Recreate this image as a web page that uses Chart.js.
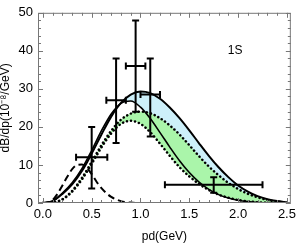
<!DOCTYPE html>
<html>
<head>
<meta charset="utf-8">
<script src="https://cdn.jsdelivr.net/npm/chart.js@4.4.1/dist/chart.umd.min.js"></script>
<style>
html, body { margin: 0; padding: 0; background: #fff; }
#wrap { width: 300px; height: 245px; }
</style>
</head>
<body>
<div id="wrap"><canvas id="c"></canvas></div>
<script>
// curve samples
var xGrid = [0.0, 0.1, 0.2, 0.3, 0.4, 0.5, 0.6, 0.7, 0.8, 0.9, 1.0, 1.1, 1.2, 1.3, 1.4, 1.5, 1.6, 1.7, 1.8, 1.9, 2.0, 2.1, 2.2, 2.3, 2.4, 2.5];
var upperSolid = [0, 0.5, 2.4, 4.9, 8.4, 13.0, 18.0, 22.7, 26.3, 28.5, 29.3, 28.9, 27.4, 25.1, 22.3, 19.1, 15.7, 12.4, 9.4, 6.8, 4.6, 3.0, 1.8, 1.0, 0.5, 0.2];
var lowerSolid = [0, 0.5, 2.6, 5.3, 9.0, 13.8, 19.0, 23.4, 26.2, 26.8, 25.2, 22.2, 18.5, 14.7, 11.1, 8.0, 5.5, 3.6, 2.2, 1.3, 0.7, 0.35, 0.15, 0.05, 0, 0];
var upperDotted = [0, 0.1, 1.0, 3.2, 6.6, 10.8, 15.2, 19.0, 21.9, 23.5, 24.0, 23.6, 22.3, 20.4, 18.0, 15.2, 12.3, 9.6, 7.3, 5.3, 3.7, 2.4, 1.5, 0.8, 0.35, 0.1];
var lowerDotted = [0, 0.1, 0.9, 3.0, 6.2, 10.3, 14.6, 18.3, 20.8, 21.6, 20.8, 18.6, 15.6, 12.4, 9.4, 7.0, 5.0, 3.4, 2.2, 1.4, 0.8, 0.45, 0.2, 0.1, 0, 0];

var dashedX = [0, 0.05, 0.1, 0.15, 0.2, 0.25, 0.3, 0.35, 0.4, 0.45, 0.5, 0.55, 0.6, 0.65, 0.7, 0.8, 0.9, 1.0, 1.5, 2.0, 2.5];
var dashedY = [0, 0.1, 0.8, 2.4, 4.6, 6.9, 8.9, 10.0, 10.1, 9.2, 7.6, 5.6, 3.9, 2.6, 1.6, 0.5, 0.1, 0, 0, 0, 0];

// data points with error bars
var pointX = [0.5, 0.75, 0.95, 1.1, 1.75];
var pointY = [12, 27, 36, 28.5, 4.8];
var xErrLow = [0.34, 0.65, 0.85, 1.0, 1.25];
var xErrHigh = [0.66, 0.85, 1.05, 1.2, 2.25];
var yErrLow = [3.8, 15.8, 24, 17.5, 2.7];
var yErrHigh = [20, 38, 48, 38, 6.8];

var xTicks = [0, 0.5, 1.0, 1.5, 2.0, 2.5];
var yTicks = [0, 10, 20, 30, 40, 50];

var blueFill = "rgb(205,240,250)";
var greenFill = "rgb(170,245,170)";
var labelFont = "'Liberation Sans Narrow', 'Liberation Sans', Arial, sans-serif";

function pts(xs, ys) {
    return xs.map(function (v, i) { return { x: v, y: ys[i] }; });
}

var framePlugin = {
    id: "frame",
    afterDatasetsDraw: function (chart) {
        var ctx = chart.ctx;
        var a = chart.chartArea;
        var xs = chart.scales.x;
        var ys = chart.scales.y;
        ctx.save();

        // error bars
        ctx.strokeStyle = "#000";
        ctx.lineWidth = 2;
        var cap = 3.5;
        for (var i = 0; i < pointX.length; i++) {
            var px = xs.getPixelForValue(pointX[i]);
            var py = ys.getPixelForValue(pointY[i]);
            var x0 = xs.getPixelForValue(xErrLow[i]);
            var x1 = xs.getPixelForValue(xErrHigh[i]);
            var y0 = ys.getPixelForValue(yErrLow[i]);
            var y1 = ys.getPixelForValue(yErrHigh[i]);
            ctx.beginPath();
            ctx.moveTo(x0, py); ctx.lineTo(x1, py);
            ctx.moveTo(px, y0); ctx.lineTo(px, y1);
            ctx.moveTo(x0, py - cap); ctx.lineTo(x0, py + cap);
            ctx.moveTo(x1, py - cap); ctx.lineTo(x1, py + cap);
            ctx.moveTo(px - cap, y0); ctx.lineTo(px + cap, y0);
            ctx.moveTo(px - cap, y1); ctx.lineTo(px + cap, y1);
            ctx.stroke();
        }

        // frame
        ctx.strokeStyle = "#777";
        ctx.lineWidth = 1;
        ctx.strokeRect(a.left + 0.5, a.top + 0.5, a.right - a.left - 1, a.bottom - a.top - 1);

        // inward ticks on all four sides
        ctx.beginPath();
        var v, p, len;
        for (v = 0; v <= 25; v++) {
            p = Math.round(xs.getPixelForValue(v / 10)) + 0.5;
            len = (v % 5 === 0) ? 5 : 3;
            ctx.moveTo(p, a.bottom); ctx.lineTo(p, a.bottom - len);
            ctx.moveTo(p, a.top); ctx.lineTo(p, a.top + len);
        }
        for (v = 0; v <= 50; v += 2) {
            p = Math.round(ys.getPixelForValue(v)) + 0.5;
            len = (v % 10 === 0) ? 5 : 3;
            ctx.moveTo(a.left, p); ctx.lineTo(a.left + len, p);
            ctx.moveTo(a.right, p); ctx.lineTo(a.right - len, p);
        }
        ctx.stroke();

        // state label
        ctx.fillStyle = "#000";
        ctx.font = "12px " + labelFont;
        ctx.textAlign = "center";
        ctx.textBaseline = "middle";
        ctx.fillText("1S", xs.getPixelForValue(1.97), ys.getPixelForValue(40));
        ctx.restore();
    },
};

var ctx = document.getElementById("c");
new Chart(ctx, {
    type: "line",
    data: {
        datasets: [
            {
                data: pts(xGrid, upperDotted),
                borderColor: "#000",
                borderWidth: 2.5,
                borderDash: [0.1, 4],
                borderCapStyle: "round",
                backgroundColor: greenFill,
                fill: "+1",
            },
            {
                data: pts(xGrid, lowerDotted),
                borderColor: "#000",
                borderWidth: 2.5,
                borderDash: [0.1, 4],
                borderCapStyle: "round",
                fill: false,
            },
            {
                data: pts(xGrid, upperSolid),
                borderColor: "#000",
                borderWidth: 2,
                backgroundColor: blueFill,
                fill: "+1",
            },
            {
                data: pts(xGrid, lowerSolid),
                borderColor: "#000",
                borderWidth: 1.6,
                fill: false,
            },
            {
                data: pts(dashedX, dashedY),
                borderColor: "#000",
                borderWidth: 2,
                borderDash: [7, 4],
                fill: false,
            },
        ],
    },
    options: {
        responsive: true,
        maintainAspectRatio: false,
        animation: false,
        layout: { padding: { top: 6, right: 3, left: 0, bottom: 0 } },
        elements: {
            point: { radius: 0 },
            line: { cubicInterpolationMode: "monotone" },
        },
        plugins: {
            legend: { display: false },
            tooltip: { enabled: false },
            filler: { drawTime: "beforeDatasetsDraw" },
        },
        scales: {
            x: {
                type: "linear",
                min: -0.05,
                max: 2.54,
                grid: { display: false, drawTicks: false },
                border: { display: false },
                afterBuildTicks: function (scale) {
                    scale.ticks = xTicks.map(function (v) { return { value: v }; });
                },
                afterFit: function (scale) { scale.height = 42; },
                ticks: {
                    padding: 4,
                    color: "#000",
                    maxRotation: 0,
                    font: { family: labelFont, size: 13 },
                    callback: function (value) { return value.toFixed(1); },
                },
                title: {
                    display: true,
                    text: "pd(GeV)",
                    color: "#000",
                    padding: { top: 0, bottom: 1 },
                    font: { family: labelFont, size: 12, lineHeight: 1.2 },
                },
            },
            y: {
                min: 0,
                max: 50,
                grid: { display: false, drawTicks: false },
                border: { display: false },
                afterBuildTicks: function (scale) {
                    scale.ticks = yTicks.map(function (v) { return { value: v }; });
                },
                afterFit: function (scale) { scale.width = 38; },
                ticks: {
                    padding: 5,
                    color: "#000",
                    font: { family: labelFont, size: 13 },
                },
                title: {
                    display: true,
                    text: "dB/dp(10\u207B\u2078/GeV)",
                    color: "#000",
                    padding: { top: 0, bottom: 0 },
                    font: { family: labelFont, size: 12, lineHeight: 1.0 },
                },
            },
        },
    },
    plugins: [framePlugin],
});
</script>
</body>
</html>
